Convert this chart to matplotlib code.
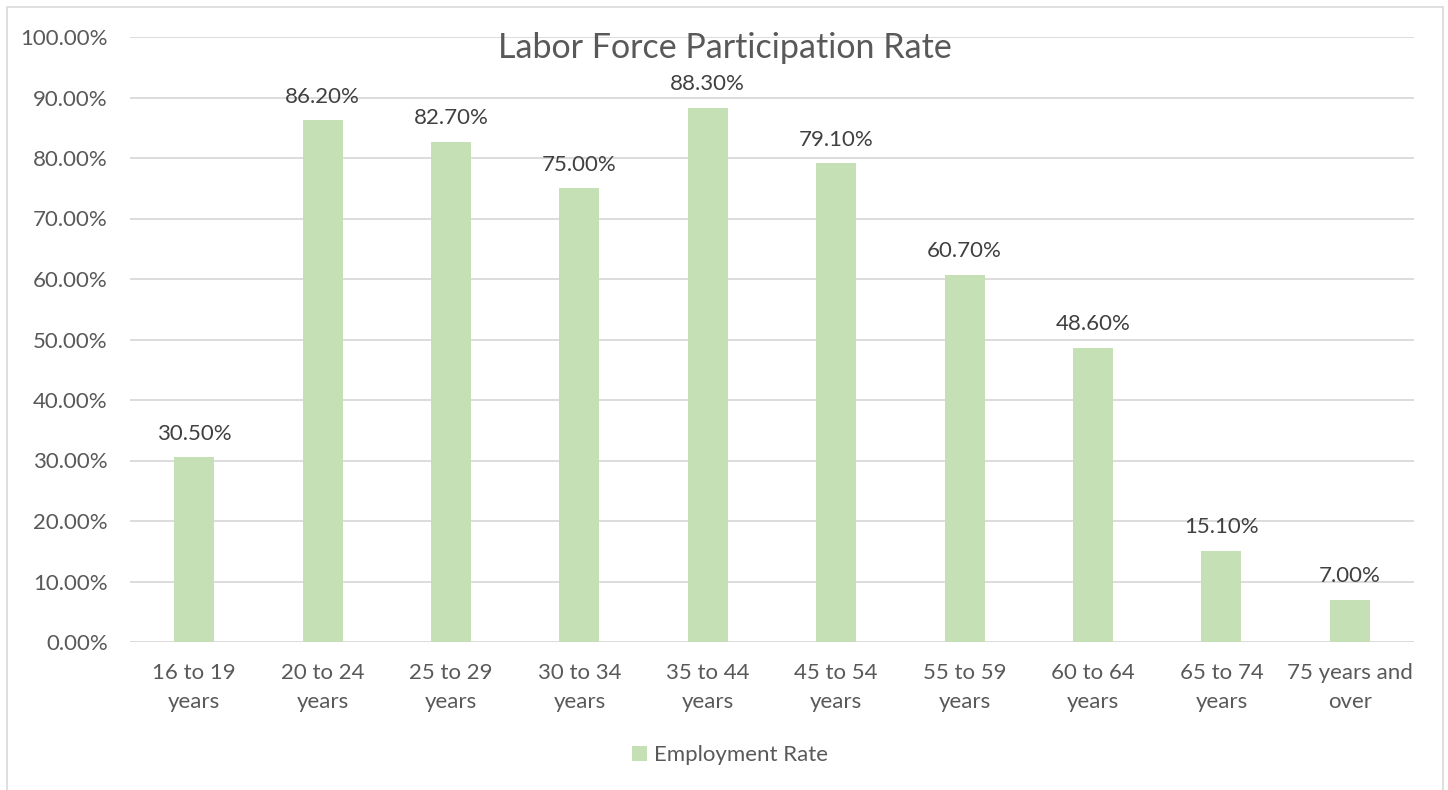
import numpy as np
import matplotlib.pyplot as plt
from matplotlib.patches import Rectangle

plt.rcParams['font.family'] = ['Lato', 'DejaVu Sans']

categories = ["16 to 19\nyears", "20 to 24\nyears", "25 to 29\nyears", "30 to 34\nyears",
              "35 to 44\nyears", "45 to 54\nyears", "55 to 59\nyears", "60 to 64\nyears",
              "65 to 74\nyears", "75 years and\nover"]
rates = [30.5, 86.2, 82.7, 75.0, 88.3, 79.1, 60.7, 48.6, 15.1, 7.0]
yticks = np.arange(0, 101, 10)

W, H = 1448, 790
fig = plt.figure(figsize=(W / 100, H / 100), dpi=100)
ax = fig.add_axes([130 / W, 1 - 642 / H, (1414 - 130) / W, (642 - 37) / H])

x = np.arange(len(categories))
ax.bar(x, rates, width=0.31, color="#C5E0B4", zorder=3, label="Employment Rate")
for xi, v in zip(x, rates):
    ax.annotate(f"{v:.2f}%", (xi, v), xytext=(0, 17), textcoords="offset points",
                ha="center", va="center", fontsize=16, color="#404040", zorder=4)

ax.set_xlim(-0.5, len(categories) - 0.5)
ax.set_ylim(0, 100)
ax.set_yticks(yticks)
ax.set_yticklabels([f"{t:.2f}%" for t in yticks])
ax.set_xticks(x)
ax.set_xticklabels(categories, linespacing=1.6)
ax.tick_params(axis="both", length=0, labelsize=16, colors="#595959")
ax.tick_params(axis="y", pad=16)
ax.tick_params(axis="x", pad=15)
ax.grid(axis="y", color="#D9D9D9", linewidth=1.3, zorder=0)
for s in ax.spines.values():
    s.set_visible(False)

fig.text(725 / W, 1 - 48 / H, "Labor Force Participation Rate", ha="center", va="center",
         fontsize=24.5, color="#595959")

fig.legend(loc="center", bbox_to_anchor=(730 / W, 1 - 755 / H), frameon=False,
           fontsize=16, labelcolor="#595959", handlelength=0.65, handleheight=0.65,
           handletextpad=0.3)

fig.patches.append(Rectangle((7 / W, -0.01), (1443 - 7) / W, 1 - 7 / H + 0.01,
                             transform=fig.transFigure, fill=False,
                             edgecolor="#D9D9D9", linewidth=1.2))

fig.savefig("out.png", dpi=100)
